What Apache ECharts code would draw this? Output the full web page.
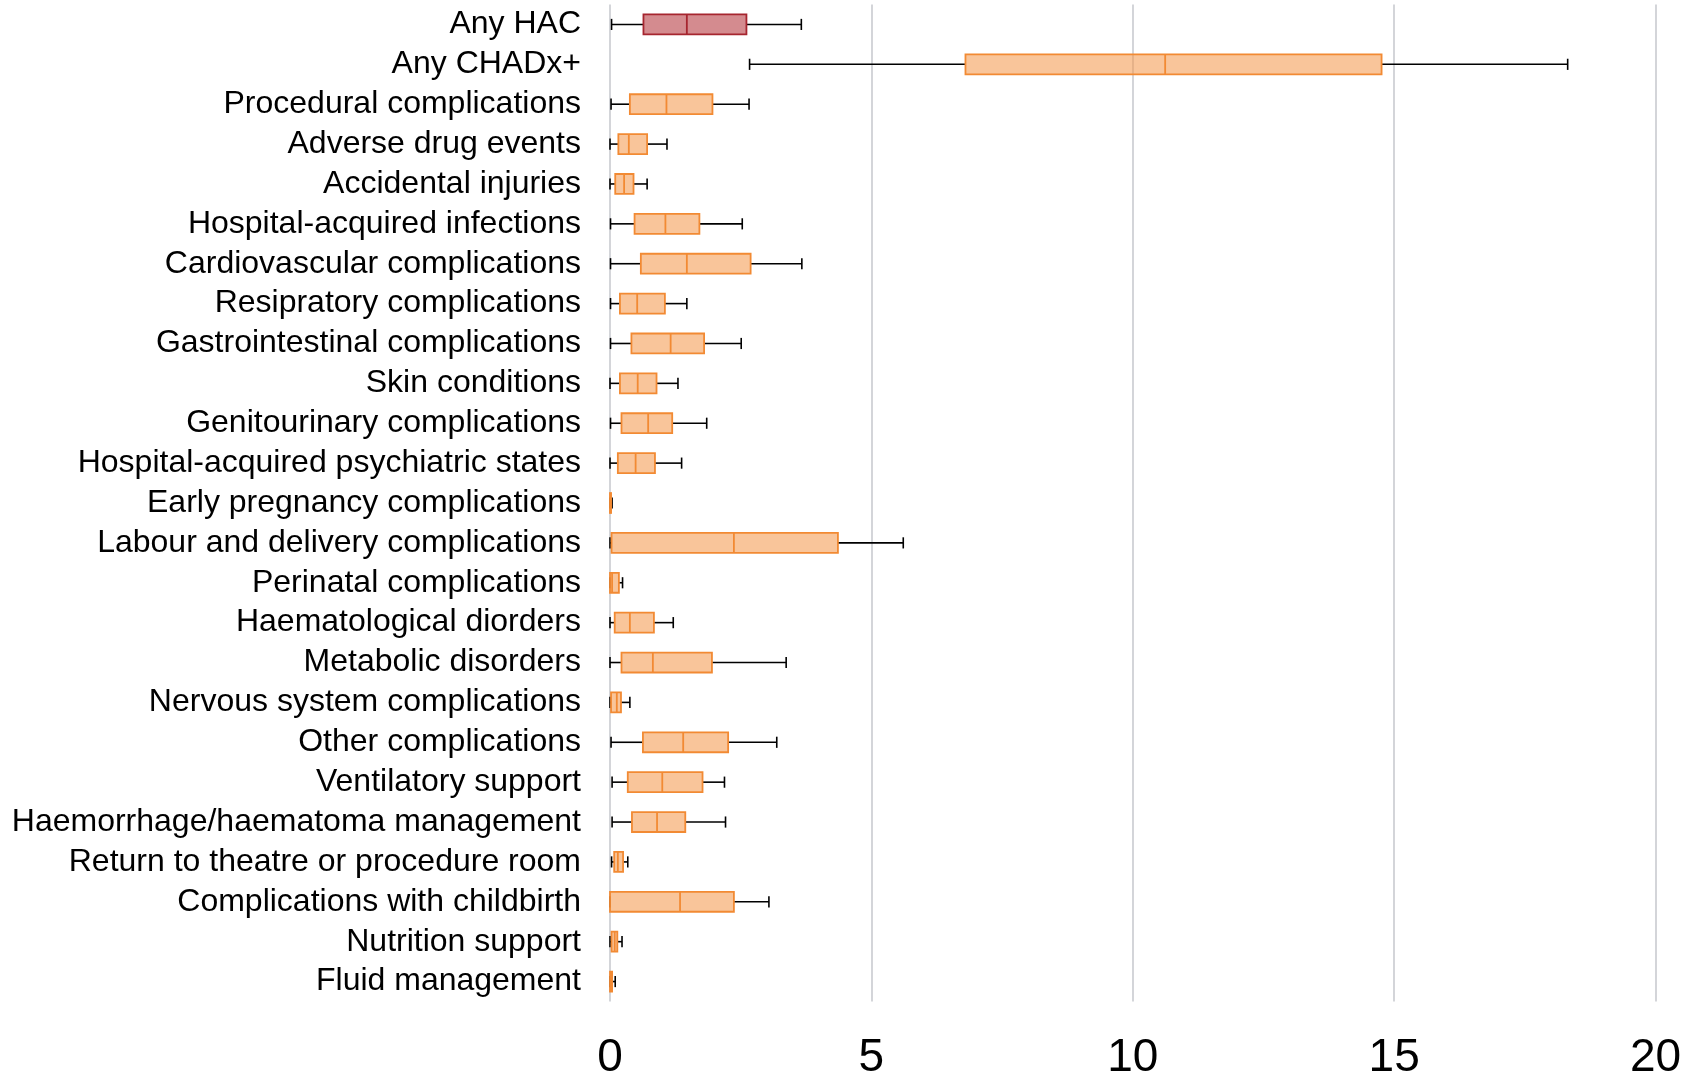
<!DOCTYPE html>
<html>
<head>
<meta charset="utf-8">
<script src="https://cdn.jsdelivr.net/npm/echarts@6/dist/echarts.min.js"></script>
<style>
  html, body { margin: 0; padding: 0; background: #ffffff; }
  #chart { width: 1690px; height: 1077px; }
</style>
</head>
<body>
<div id="chart"></div>
<script>
// Complication categories, top to bottom
const categories = [
  'Any HAC',
  'Any CHADx+',
  'Procedural complications',
  'Adverse drug events',
  'Accidental injuries',
  'Hospital-acquired infections',
  'Cardiovascular complications',
  'Resipratory complications',
  'Gastrointestinal complications',
  'Skin conditions',
  'Genitourinary complications',
  'Hospital-acquired psychiatric states',
  'Early pregnancy complications',
  'Labour and delivery complications',
  'Perinatal complications',
  'Haematological diorders',
  'Metabolic disorders',
  'Nervous system complications',
  'Other complications',
  'Ventilatory support',
  'Haemorrhage/haematoma management',
  'Return to theatre or procedure room',
  'Complications with childbirth',
  'Nutrition support',
  'Fluid management'
];

// Five-number summaries per category
const whiskerLow  = [0.03, 2.67, 0.02, 0.00, 0.00, 0.01, 0.01, 0.01, 0.01, 0.00, 0.01, 0.00, 0.00, 0.00, 0.00, 0.00, 0.00, 0.00, 0.02, 0.04, 0.04, 0.03, 0.00, 0.00, 0.00];
const quartile1   = [0.64, 6.80, 0.38, 0.16, 0.10, 0.47, 0.59, 0.19, 0.41, 0.19, 0.22, 0.15, 0.00, 0.03, 0.00, 0.09, 0.22, 0.02, 0.63, 0.34, 0.42, 0.08, 0.00, 0.03, 0.00];
const medianVals  = [1.47, 10.62, 1.08, 0.36, 0.27, 1.06, 1.47, 0.52, 1.16, 0.53, 0.73, 0.49, 0.01, 2.37, 0.04, 0.38, 0.82, 0.13, 1.40, 1.00, 0.90, 0.15, 1.34, 0.09, 0.02];
const quartile3   = [2.61, 14.76, 1.96, 0.71, 0.45, 1.71, 2.69, 1.05, 1.80, 0.89, 1.19, 0.86, 0.02, 4.36, 0.17, 0.84, 1.95, 0.21, 2.26, 1.77, 1.44, 0.25, 2.37, 0.14, 0.04];
const whiskerHigh = [3.66, 18.32, 2.66, 1.09, 0.71, 2.53, 3.67, 1.47, 2.51, 1.30, 1.85, 1.37, 0.04, 5.61, 0.24, 1.21, 3.37, 0.38, 3.19, 2.19, 2.21, 0.34, 3.04, 0.23, 0.10];

// Axis ticks
const xTicks = [0, 5, 10, 15, 20];

const boxData = categories.map((c, i) => [i, whiskerLow[i], quartile1[i], medianVals[i], quartile3[i], whiskerHigh[i]]);

const styles = {
  hac:   { fill: 'rgba(177,44,51,0.55)',  stroke: '#a6252f' },
  other: { fill: 'rgba(244,150,71,0.55)', stroke: '#f28a33' }
};

function renderBox(params, api) {
  const idx = api.value(0);
  const st = idx === 0 ? styles.hac : styles.other;
  const yc = api.coord([0, idx])[1];
  const band = api.size([0, 1])[1];
  const halfBox = band * 0.25;
  const halfCap = band * 0.14;
  const xLow = api.coord([api.value(1), idx])[0];
  const xQ1 = api.coord([api.value(2), idx])[0];
  const xMed = api.coord([api.value(3), idx])[0];
  const xQ3 = api.coord([api.value(4), idx])[0];
  const xHigh = api.coord([api.value(5), idx])[0];
  const wStyle = { stroke: '#000000', lineWidth: 1.6 };
  return {
    type: 'group',
    children: [
      { type: 'line', shape: { x1: xLow, y1: yc, x2: xQ1, y2: yc }, style: wStyle },
      { type: 'line', shape: { x1: xQ3, y1: yc, x2: xHigh, y2: yc }, style: wStyle },
      { type: 'line', shape: { x1: xLow, y1: yc - halfCap, x2: xLow, y2: yc + halfCap }, style: wStyle },
      { type: 'line', shape: { x1: xHigh, y1: yc - halfCap, x2: xHigh, y2: yc + halfCap }, style: wStyle },
      { type: 'rect', shape: { x: xQ1, y: yc - halfBox, width: Math.max(xQ3 - xQ1, 1), height: halfBox * 2 },
        style: { fill: st.fill, stroke: st.stroke, lineWidth: 1.8 } },
      { type: 'line', shape: { x1: xMed, y1: yc - halfBox, x2: xMed, y2: yc + halfBox },
        style: { stroke: st.stroke, lineWidth: 1.8 } }
    ]
  };
}

const chart = echarts.init(document.getElementById('chart'), null, { renderer: 'canvas' });
chart.setOption({
  animation: false,
  backgroundColor: '#ffffff',
  grid: { left: 610, right: 34.5, top: 4.5, bottom: 75.5, containLabel: false, outerBoundsMode: 'none' },
  xAxis: {
    type: 'value',
    min: xTicks[0],
    max: xTicks[xTicks.length - 1],
    interval: xTicks[1] - xTicks[0],
    axisLine: { show: false },
    axisTick: { show: false },
    axisLabel: {
      color: '#000000',
      fontFamily: 'Liberation Sans, Arial, sans-serif',
      fontSize: 46,
      margin: 34,
      showMinLabel: true,
      showMaxLabel: true
    },
    splitLine: { show: true, lineStyle: { color: '#c9cbd0', width: 1.6 } }
  },
  yAxis: {
    type: 'category',
    data: categories,
    inverse: true,
    axisLine: { show: false },
    axisTick: { show: false },
    splitLine: { show: false },
    axisLabel: {
      color: '#000000',
      fontFamily: 'Liberation Sans, Arial, sans-serif',
      fontSize: 32,
      margin: 29,
      interval: 0
    }
  },
  series: [{
    type: 'custom',
    renderItem: renderBox,
    encode: { x: [1, 2, 3, 4, 5], y: 0 },
    data: boxData,
    clip: false
  }]
});
</script>
</body>
</html>
